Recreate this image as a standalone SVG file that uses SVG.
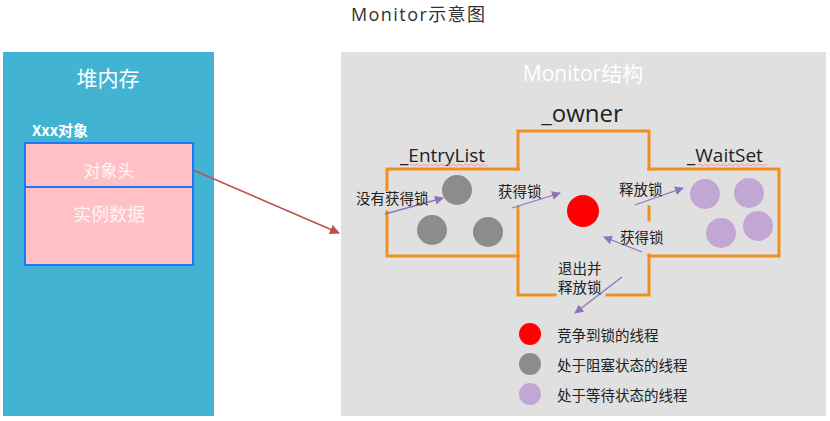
<svg xmlns="http://www.w3.org/2000/svg" width="830" height="421" viewBox="0 0 830 421">
<defs>
<style>
.cjk{font-family:"Noto Sans CJK SC","Noto Sans",sans-serif;}
.lat{font-family:"Open Sans","Noto Sans CJK SC",sans-serif;}
.lbl{font-family:"Noto Sans CJK SC",sans-serif;font-size:14.5px;fill:#222;dominant-baseline:central;}
.orange{fill:none;stroke:#F0901E;stroke-width:3;stroke-linecap:square;}
.parrow{stroke:#8E72C0;stroke-width:1.3;fill:none;marker-end:url(#pm);}
.gray{fill:#8C8C8C;}
.purple{fill:#C2A7D5;}
.wavy{fill:none;stroke:#F08A8A;stroke-width:0.9;}
</style>
<marker id="pm" viewBox="0 0 10 10" refX="9" refY="5" markerWidth="9" markerHeight="9" markerUnits="userSpaceOnUse" orient="auto">
<path d="M0,0 L10,5 L0,10 z" fill="#8E72C0"/>
</marker>
<marker id="rm" viewBox="0 0 10 10" refX="9" refY="5" markerWidth="10" markerHeight="10" markerUnits="userSpaceOnUse" orient="auto">
<path d="M0,0 L10,5 L0,10 z" fill="#C0504D"/>
</marker>
</defs>
<rect width="830" height="421" fill="#FFFFFF"/>
<text class="lat" x="418" y="21" font-size="18" fill="#333" text-anchor="middle" textLength="134" lengthAdjust="spacing">Monitor示意图</text>

<g id="heap">
<rect x="3" y="52" width="211" height="364" fill="#43B3D4"/>
<text class="cjk" x="108" y="86" font-size="21" fill="#FFFFFF" text-anchor="middle">堆内存</text>
<text class="cjk" x="32" y="136" font-size="15" font-weight="bold" fill="#FFFFFF">Xxx对象</text>
</g>
<g id="object-header">
<rect x="25" y="143" width="168" height="44" fill="#FFC1C6" stroke="#1E78FF" stroke-width="2"/>
<text class="cjk" x="109" y="177" font-size="17" fill="#FFF4F5" text-anchor="middle">对象头</text>
</g>
<g id="instance-data">
<rect x="25" y="187" width="168" height="78" fill="#FFC1C6" stroke="#1E78FF" stroke-width="2"/>
<text class="cjk" x="109" y="221" font-size="18" fill="#FFF4F5" text-anchor="middle">实例数据</text>
</g>

<g id="monitor">
<rect x="341" y="52" width="485" height="364" fill="#E0E0E0"/>
<text class="lat" x="583" y="81" font-size="21" fill="#FFFFFF" text-anchor="middle">Monitor结构</text>
</g>

<g id="owner">
<text class="lat" x="582" y="122" font-size="24" fill="#222" text-anchor="middle">_owner</text>
<path class="orange" d="M518,169 V131 H649 V169"/>
<path class="orange" d="M518,207 V295 H555 M607,295 H649 V255 M649,220 V207"/>
<circle cx="583" cy="211" r="16" fill="#FF0000"/>
</g>

<g id="entrylist">
<text class="lat" x="400" y="162" font-size="19" fill="#222">_EntryList</text>
<path class="wavy" d="M410,165 q1.5,-2 3,0 t3,0 t3,0 t3,0 t3,0 t3,0 t3,0 t3,0 t3,0 t3,0 t3,0 t3,0 t3,0 t3,0 t3,0 t3,0 t3,0 t3,0 t3,0 t3,0 t3,0 t3,0 t3,0 t3,0 t3,0 t3,0"/>
<path class="orange" d="M518,169 H387 V190 M387,212 V256 H518"/>
<circle class="gray" cx="457" cy="190" r="15"/>
<circle class="gray" cx="432" cy="230" r="15"/>
<circle class="gray" cx="488" cy="232" r="15"/>
</g>

<g id="waitset">
<text class="lat" x="687" y="162" font-size="19" fill="#222">_WaitSet</text>
<path class="wavy" d="M698,165 q1.5,-2 3,0 t3,0 t3,0 t3,0 t3,0 t3,0 t3,0 t3,0 t3,0 t3,0 t3,0 t3,0 t3,0 t3,0 t3,0 t3,0 t3,0 t3,0 t3,0 t3,0 t3,0 t3,0 t3,0"/>
<path class="orange" d="M649,169 H779 V256 H649"/>
<circle class="purple" cx="705" cy="194" r="15"/>
<circle class="purple" cx="749" cy="193" r="15"/>
<circle class="purple" cx="721" cy="233" r="15"/>
<circle class="purple" cx="758" cy="226" r="15"/>
</g>

<g id="connectors">
<path d="M193,170 L339,233" stroke="#C0504D" stroke-width="1.5" fill="none" marker-end="url(#rm)"/>
<path class="parrow" d="M385,214 L443,198"/>
<path class="parrow" d="M512,208 L560,193"/>
<path class="parrow" d="M635,205 L683,188"/>
<path class="parrow" d="M642,252 L604,237"/>
<path class="parrow" d="M622,277 L575,313"/>
<text class="lbl" x="356" y="197" font-size="15">没有获得锁</text>
<text class="lbl" x="498" y="190">获得锁</text>
<text class="lbl" x="619" y="188">释放锁</text>
<text class="lbl" x="620" y="236">获得锁</text>
<text class="lbl" x="558" y="267" font-size="14">退出并</text>
<text class="lbl" x="558" y="286" font-size="14">释放锁</text>
</g>

<g id="legend">
<circle cx="530" cy="334" r="11" fill="#FF0000"/>
<circle cx="530" cy="364" r="11" fill="#8C8C8C"/>
<circle cx="530" cy="394" r="11" fill="#C2A7D5"/>
<text class="lbl" x="557" y="334">竞争到锁的线程</text>
<text class="lbl" x="557" y="364">处于阻塞状态的线程</text>
<text class="lbl" x="557" y="394">处于等待状态的线程</text>
</g>
</svg>
